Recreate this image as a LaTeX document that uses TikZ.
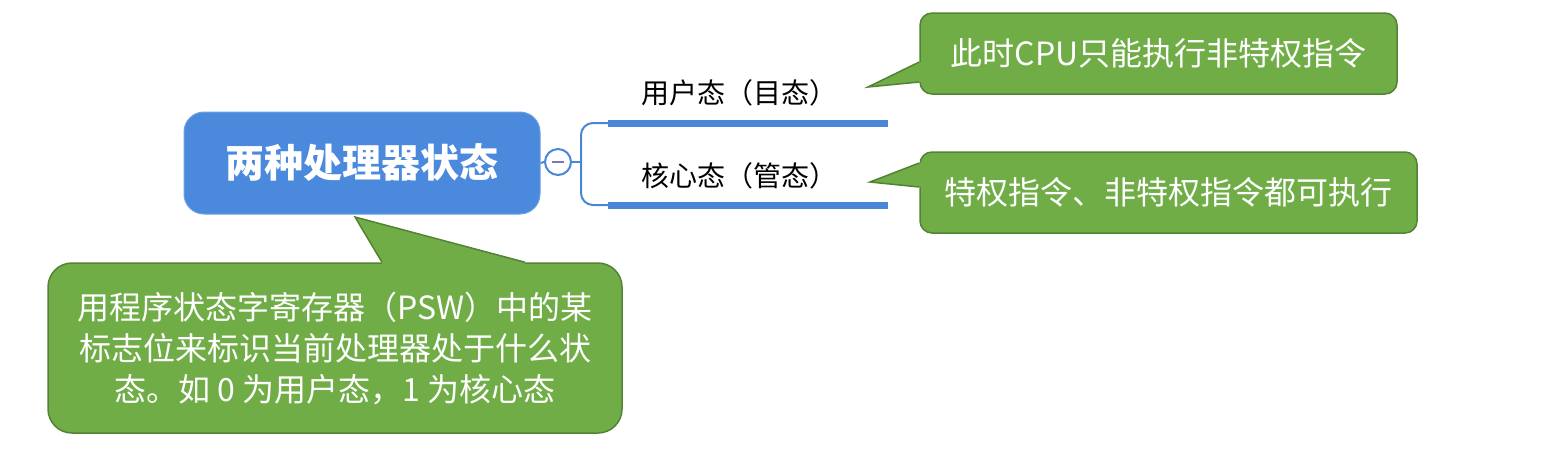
\documentclass[tikz,border=0pt]{standalone}
\usepackage{fontspec}
\setmainfont{Noto Sans CJK SC}
\usetikzlibrary{positioning,calc}

\definecolor{rootblue}{RGB}{74,137,220}
\definecolor{barblue}{RGB}{74,134,216}
\definecolor{notegreen}{RGB}{112,173,71}
\definecolor{noteedge}{RGB}{84,130,53}
\definecolor{foldmark}{RGB}{128,118,180}

\tikzset{
  rootbox/.style={fill=rootblue, draw=rootblue!80!white, line width=0.5pt,
    rounded corners=10pt, minimum width=178pt, minimum height=51pt,
    text=white, font=\fontsize{19.5}{23}\selectfont\bfseries},
  foldbtn/.style={circle, draw=barblue, line width=1pt, fill=white,
    minimum size=13pt, inner sep=0pt},
  branch/.style={draw=barblue, line width=1pt},
  bar/.style={draw=barblue, line width=3.5pt},
  branchlabel/.style={font=\fontsize{14}{17}\selectfont, inner sep=0pt},
  notebox/.style={fill=notegreen, draw=noteedge, line width=0.75pt,
    rounded corners=6pt, text=white, align=center, inner sep=0pt,
    font=\fontsize{16}{20.5}\selectfont},
  notetail/.style={draw=noteedge, line width=0.75pt, line join=miter}
}

\begin{document}
\begin{tikzpicture}[x=0.5pt, y=-0.5pt]
  \useasboundingbox (0,0) rectangle (1541,463);

  % 1. 中心主题与折叠按钮
  \node[rootbox] (root) at (362,163) {两种处理器状态};
  \node[foldbtn] (fold) at (558,162) {};
  \draw[foldmark, line width=1pt] ([xshift=-3pt]fold.center) -- ([xshift=3pt]fold.center);
  \draw[branch] (root.east) -- (fold.west);

  % 2. 两个分支: 括号 + 粗横线
  \coordinate (spine) at (581,162);
  \coordinate (userL) at (608,123);
  \coordinate (userR) at (888,123);
  \coordinate (kernL) at (608,205);
  \coordinate (kernR) at (888,205);
  \draw[branch] (fold.east) -- (spine);
  \draw[branch, rounded corners=6pt] (spine) |- (userL);
  \draw[branch, rounded corners=6pt] (spine) |- (kernL);
  \draw[bar] (userL) -- (userR);
  \draw[bar] (kernL) -- (kernR);

  \node[branchlabel] (user) at (739,93) {用户态（目态）};
  \node[branchlabel] (kern) at (739,176) {核心态（管态）};

  % 3. 绿色批注框
  \node[notebox, minimum width=238.5pt, minimum height=40.5pt] (noteUser) at (1158.5,53.5)
    {此时CPU只能执行非特权指令};
  \node[notebox, minimum width=248.5pt, minimum height=40.5pt] (noteKern) at (1168.5,192.5)
    {特权指令、非特权指令都可执行};
  \node[notebox, rounded corners=12pt, minimum width=287pt, minimum height=85pt] (notePSW) at (335,348)
    {用程序状态字寄存器（PSW）中的某\\标志位来标识当前处理器处于什么状\\态。如 0 为用户态，1 为核心态};

  % 批注的尖角 (指向分支 / 主题)
  \coordinate (tipUser) at (868,87);
  \coordinate (tipKern) at (870,182);
  \coordinate (tipPSW) at (355,217);

  \fill[notegreen] ($(noteUser.west)+(0,8.5)$) -- (tipUser) -- ($(noteUser.west)+(0,28.5)$)
    -- ($(noteUser.west)+(7,28.5)$) -- ($(noteUser.west)+(7,8.5)$) -- cycle;
  \draw[notetail] ($(noteUser.west)+(0,8.5)$) -- (tipUser) -- ($(noteUser.west)+(0,28.5)$);

  \fill[notegreen] ($(noteKern.west)+(0,-29.5)$) -- (tipKern) -- ($(noteKern.west)+(0,-5.5)$)
    -- ($(noteKern.west)+(7,-5.5)$) -- ($(noteKern.west)+(7,-29.5)$) -- cycle;
  \draw[notetail] ($(noteKern.west)+(0,-29.5)$) -- (tipKern) -- ($(noteKern.west)+(0,-5.5)$);

  \fill[notegreen] ($(notePSW.north)+(47,0)$) -- (tipPSW) -- ($(notePSW.north)+(190,0)$)
    -- ($(notePSW.north)+(190,7)$) -- ($(notePSW.north)+(47,7)$) -- cycle;
  \draw[notetail] ($(notePSW.north)+(47,0)$) -- (tipPSW) -- ($(notePSW.north)+(190,0)$);
\end{tikzpicture}
\end{document}
